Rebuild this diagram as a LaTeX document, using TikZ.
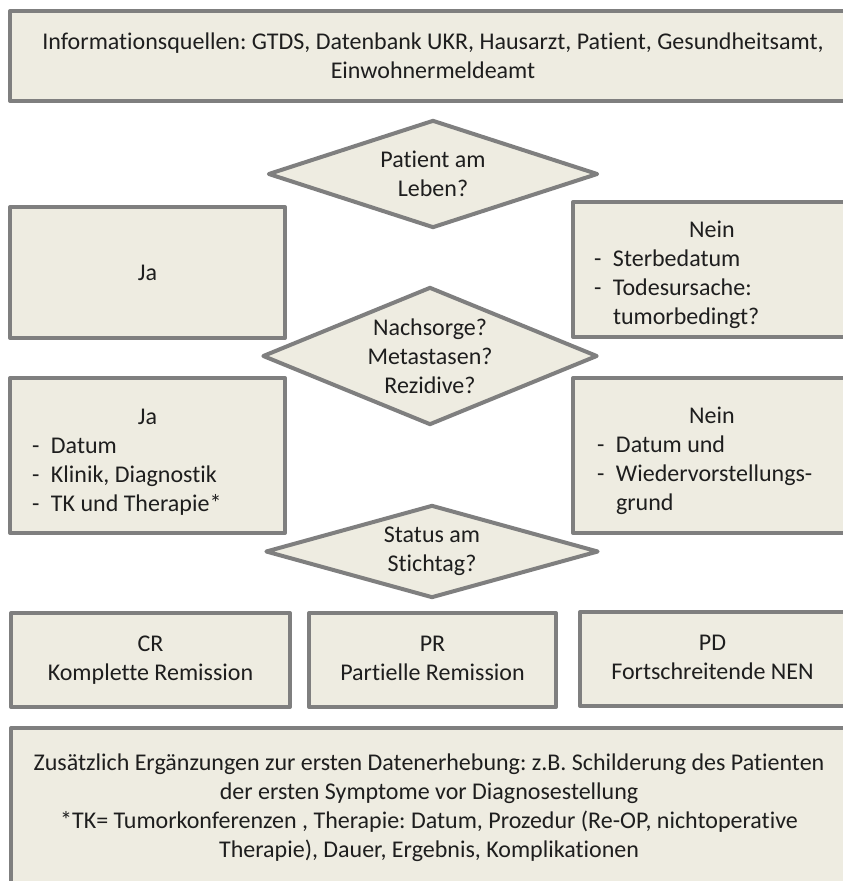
\documentclass[tikz,border=0pt]{standalone}
\usepackage{fontspec}
\setmainfont{Carlito}[Ligatures=NoCommon]
\usetikzlibrary{shapes.geometric}
\definecolor{boxfill}{HTML}{EEECE1}
\definecolor{boxline}{HTML}{7F7F7F}
\definecolor{txt}{HTML}{1E1E1E}
\newcommand{\bul}{\makebox[19pt][l]{-}}
\newcommand{\topgap}{\rule{0pt}{28pt}}
\begin{document}
\frenchspacing
\begin{tikzpicture}[x=1pt,y=-1pt,
  box/.style={draw=boxline, line width=4pt, fill=boxfill, inner sep=0pt,
    text=txt, font=\fontsize{24}{29}\selectfont\frenchspacing, align=center, line join=round},
  listbox/.style={box, align=flush left},
  dia/.style={box, shape=diamond}]
\useasboundingbox (0,0) rectangle (843,881);
\clip (0,0) rectangle (843,881);
% top box
\node[box, minimum width=846pt, minimum height=90pt] (src) at (433,56)
  {Informationsquellen: GTDS, Datenbank UKR, Hausarzt, Patient, Gesundheitsamt,\\Einwohnermeldeamt};
% diamond 1
\node[dia, aspect=3.06, minimum width=330pt, minimum height=108pt] (alive) at (433,174)
  {Patient am\\Leben?};
% row 1
\node[box, minimum width=275pt, minimum height=131pt] (ja1) at (147.5,272.5) {Ja};
\node[listbox, minimum width=278pt, minimum height=135pt, text width=236pt] (nein1) at (712,269.5)
  {\topgap\makebox[236pt]{Nein}\\\bul Sterbedatum\\\bul Todesursache:\\\hspace*{19pt}tumorbedingt?};
% diamond 2
\node[dia, aspect=2.43, minimum width=335pt, minimum height=138pt] (follow) at (430,356)
  {Nachsorge?\\Metastasen?\\Rezidive?};
% row 2
\node[listbox, minimum width=275pt, minimum height=155pt, text width=231pt] (ja2) at (147.5,455.5)
  {\topgap\makebox[231pt]{Ja}\\\bul Datum\\\bul Klinik, Diagnostik\\\bul TK und Therapie*};
\node[listbox, minimum width=278pt, minimum height=155pt, text width=230pt] (nein2) at (712,455.5)
  {\topgap\makebox[230pt]{Nein}\\\bul Datum und\\\bul Wiedervorstellungs-\\\hspace*{19pt}grund};
% diamond 3
\node[dia, aspect=3.58, minimum width=333pt, minimum height=93pt] (status) at (432,551.5)
  {Status am\\Stichtag?};
% row 3
\node[box, minimum width=279pt, minimum height=94pt] (cr) at (150.5,660)
  {\strut CR\\Komplette Remission\strut};
\node[box, minimum width=247pt, minimum height=94pt] (pr) at (432.5,660)
  {\strut PR\\Partielle Remission\strut};
\node[box, minimum width=265pt, minimum height=94pt] (pd) at (712.5,659)
  {\strut PD\\Fortschreitende NEN\strut};
% bottom box
\node[box, minimum width=836pt, minimum height=159pt] (notes) at (429,807.5)
  {Zusätzlich Ergänzungen zur ersten Datenerhebung: z.B. Schilderung des Patienten\\
   der ersten Symptome vor Diagnosestellung\\
   *TK= Tumorkonferenzen , Therapie: Datum, Prozedur (Re-OP, nichtoperative\\
   Therapie), Dauer, Ergebnis, Komplikationen};
\end{tikzpicture}
\end{document}
